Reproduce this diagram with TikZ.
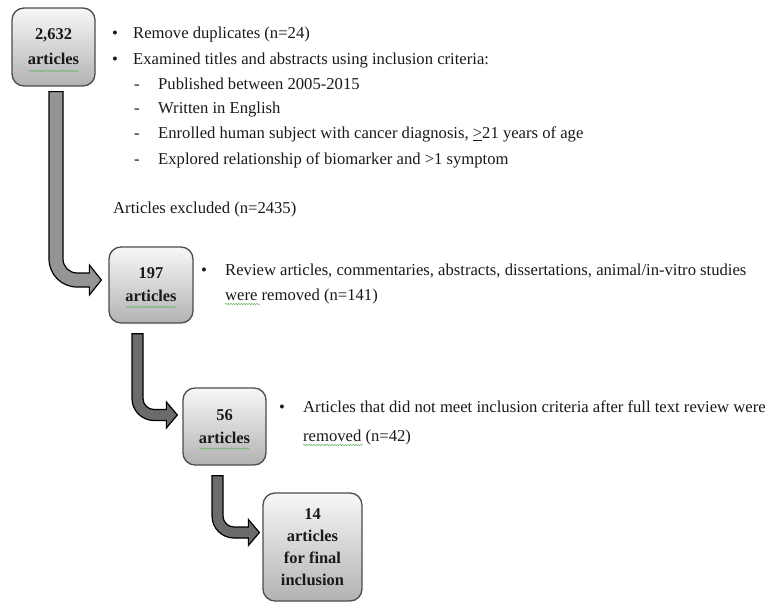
\documentclass[tikz,border=0pt]{standalone}
\usepackage{fontspec}
\setmainfont{Liberation Serif}
\usetikzlibrary{calc,decorations.pathmorphing}
\tikzset{
  box/.style={draw=black!70, line width=1.3bp, rounded corners=12bp,
    top color=black!3, bottom color=black!30, align=center, inner sep=0pt,
    text=black!90, font=\bfseries\fontsize{16.5}{23}\selectfont},
  txt/.style={anchor=base west, inner sep=0pt, text=black!90,
    font=\fontsize{16.7}{20}\selectfont},
  bulmark/.style={anchor=base, inner sep=0pt, text=black!90,
    font=\fontsize{16.7}{20}\selectfont},
  blkA/.style={fill=black!42, draw=black, line width=1.2bp},
  blkB/.style={fill=black!58, draw=black, line width=1.2bp},
  squig/.style={draw=green!50!black!60, line width=0.5bp, decorate,
    decoration={snake, amplitude=0.7bp, segment length=2.6bp}}
}
% #1 start coord (bar top centre), #2 tip coord, #3 half bar width,
% #4 outer radius, #5 head half height, #6 head length, #7 style
\newcommand\blockarrow[7]{%
  \coordinate (#1k) at (#1 |- #2);
  \draw[#7] ($(#1)+(-#3,0)$) -- ($(#1)+(#3,0)$)
    -- ($(#1k)+(#3,{#3-#4})$)
    .. controls ($(#1k)+(#3,{#3-#4+0.552*(#4-2*#3)})$)
       and ($(#1k)+({#4-#3-0.552*(#4-2*#3)},-#3)$) .. ($(#1k)+({#4-#3},-#3)$)
    -- ($(#2)+(-#6,-#3)$) -- ($(#2)+(-#6,-#5)$) -- (#2)
    -- ($(#2)+(-#6,#5)$) -- ($(#2)+(-#6,#3)$)
    -- ($(#1k)+({#4-#3},#3)$)
    .. controls ($(#1k)+({#4-#3-0.552*#4},#3)$)
       and ($(#1k)+(-#3,{#3-#4+0.552*#4})$) .. ($(#1k)+(-#3,{#3-#4})$)
    -- cycle;}
\begin{document}
\begin{tikzpicture}[x=1bp,y=-1bp]
\useasboundingbox (0,0) rectangle (774,604);

% boxes
\node[box, minimum width=83bp, minimum height=78bp] (b1) at (53.5,47) {2,632\\[2bp]articles};
\node[box, minimum width=84bp, minimum height=76bp] (b2) at (151,285) {197\\articles};
\node[box, minimum width=83bp, minimum height=77bp] (b3) at (224.5,426.5) {56\\articles};
\node[box, minimum width=99bp, minimum height=108bp, font=\bfseries\fontsize{16.5}{22}\selectfont] (b4) at (312.5,547) {14\\articles\\for final\\inclusion};

% block arrows
\coordinate (a1s) at ($(b1.south)+(2.5,5)$);
\coordinate (a1t) at ($(b2.west)+(-7,-5)$);
\blockarrow{a1s}{a1t}{7}{28}{15}{12}{blkA}
\coordinate (a2s) at ($(b2.south)+(-13.5,10)$);
\coordinate (a2t) at ($(b3.west)+(-5,-11.5)$);
\blockarrow{a2s}{a2t}{5.5}{22}{13}{11}{blkB}
\coordinate (a3s) at ($(b3.south)+(-7,10)$);
\coordinate (a3t) at ($(b4.west)+(-3,-14.5)$);
\blockarrow{a3s}{a3t}{5.5}{22}{13}{11}{blkB}

% text block 1
\node[bulmark] (m1) at (115,39) {\textbullet};
\node[txt] (t1) at (133,39) {Remove duplicates (n=24)};
\node[bulmark] (m2) at (115,65) {\textbullet};
\node[txt] (t2) at (133,65) {Examined titles and abstracts using inclusion criteria:};
\node[bulmark] (d1) at (137,90) {-};
\node[txt] (t3) at (158,90) {Published between 2005-2015};
\node[bulmark] (d2) at (137,114) {-};
\node[txt] (t4) at (158,114) {Written in English};
\node[bulmark] (d3) at (137,139) {-};
\node[txt] (t5) at (158,139) {Enrolled human subject with cancer diagnosis, \underline{>}21 years of age};
\node[bulmark] (d4) at (137,165) {-};
\node[txt] (t6) at (158,165) {Explored relationship of biomarker and >1 symptom};
\node[txt] (t7) at (113,214) {Articles excluded (n=2435)};

% text block 2
\node[bulmark] (m3) at (204,275) {\textbullet};
\node[txt] (u1) at (225,275) {Review articles, commentaries, abstracts, dissertations, animal/in-vitro studies};
\node[txt] (u2) at (225,300) {were removed (n=141)};

% text block 3
\node[bulmark] (m4) at (282,412) {\textbullet};
\node[txt] (v1) at (303,412) {Articles that did not meet inclusion criteria after full text review were};
\node[txt] (v2) at (303,441) {removed (n=42)};

% spell-check squiggles
\draw[squig] ($(b1.center)+(-25,24)$) -- ++(50,0);
\draw[squig] ($(b2.center)+(-25,22)$) -- ++(50,0);
\draw[squig] ($(b3.center)+(-25,22)$) -- ++(50,0);
\draw[squig] ($(u2.base west)+(0,4)$) -- ++(35,0);
\draw[squig] ($(v2.base west)+(0,4)$) -- ++(60,0);
\end{tikzpicture}
\end{document}
